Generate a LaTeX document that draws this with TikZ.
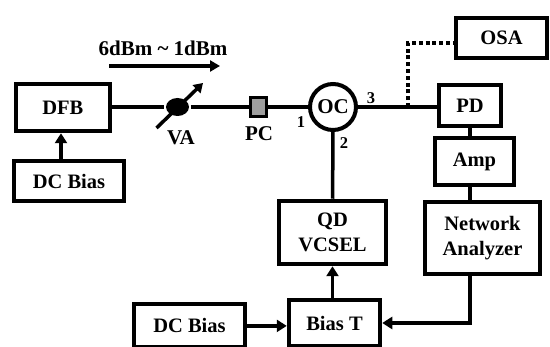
\documentclass[tikz,border=0pt]{standalone}
\usepackage{fontspec}
\setmainfont{Liberation Serif}
\usepackage{tikz}
\usetikzlibrary{arrows.meta,positioning,shapes.geometric}
\begin{document}
\begin{tikzpicture}[
    x=1pt, y=-1pt,
    line width=3.5pt,
    block/.style={rectangle, draw=black, fill=white, line width=4pt, inner sep=0pt, align=center, font=\bfseries\fontsize{20.5}{25.5}\selectfont},
    port/.style={font=\bfseries\fontsize{16.5}{18}\selectfont, inner sep=0pt},
    tag/.style={font=\bfseries\fontsize{21}{22}\selectfont, inner sep=0pt},
    feed/.style={-{Triangle[length=10pt,width=12pt]}, line width=3.5pt}
]
\useasboundingbox (0,0) rectangle (550,347);

% Source branch
\node[block, minimum width=94pt, minimum height=47.5pt] (dfb) at (62.75,107.5) {DFB};
\node[block, minimum width=110.5pt, minimum height=40.5pt] (dc1) at (69,181) {DC Bias};
\node[ellipse, fill=black, minimum width=23pt, minimum height=18pt, inner sep=0pt] (va) at (177.5,107) {};
\node[rectangle, draw=black, fill=gray!75, line width=3pt, minimum width=16pt, minimum height=19pt, inner sep=0pt] (pc) at (258.5,107) {};
\node[circle, draw=black, fill=white, line width=4pt, minimum size=46pt, inner sep=0pt, font=\bfseries\fontsize{21}{22}\selectfont] (oc) at (333,107) {OC};

% Receiver branch
\node[block, minimum width=91.5pt, minimum height=40.5pt] (osa) at (501.5,38) {OSA};
\node[block, minimum width=62.5pt, minimum height=41.5pt] (pd) at (470,105.5) {PD};
\node[block, minimum width=79.5pt, minimum height=47.5pt] (amp) at (474.5,161.5) {Amp};
\node[block, minimum width=115.5pt, minimum height=72.5pt] (na) at (482.5,238) {Network\\Analyzer};

% Laser branch
\node[block, minimum width=107.5pt, minimum height=63.5pt] (qd) at (332.5,232.5) {QD\\VCSEL};
\node[block, minimum width=91.5pt, minimum height=46pt] (biast) at (334.5,323) {Bias T};
\node[block, minimum width=110.5pt, minimum height=43pt] (dc2) at (189.5,325.9) {DC Bias};

% Labels
\node[tag] (power) at (163,48) {6dBm \textasciitilde{} 1dBm};
\node[tag] (valabel) at (181,138) {VA};
\node[tag] (pclabel) at (259,134) {PC};
\node[port] (p1) at (301,122) {1};
\node[port] (p2) at (344,143) {2};
\node[port] (p3) at (371,98) {3};

\coordinate (tap) at (408,107);
\coordinate (bend) at (408,43);
\coordinate (powerstart) at (109,66);
\coordinate (powerend) at (220,66);
\coordinate (vastart) at (156.5,128);
\coordinate (vaend) at (203,83);

\draw (dfb.east |- va) -- (va);
\draw (va) -- (pc);
\draw (pc) -- (oc);
\draw (oc.east) -- (pd.west |- oc.east);
\draw (oc) -- (qd);
\draw (pd) -- (pd |- amp.north);
\draw (na.north -| pd) -- (amp.south -| pd);
\draw[line width=4pt, dash pattern=on 4pt off 2.8pt] (tap) -- (bend) -- (bend -| osa.west);
\draw[feed] (dc1.north -| 61,0) -- (dfb.south -| 61,0);
\draw[feed] (biast.north -| qd) -- (qd.south);
\draw[feed] (dc2.east) -- (biast.west |- dc2.east);
\draw[feed] (na.south -| pd) |- (biast.east);
\draw[-{Triangle[length=10pt,width=11pt]}, line width=4pt] (powerstart) -- (powerend);
\draw[-{Triangle[length=9pt,width=11pt]}, line width=3.5pt] (vastart) -- (vaend);
\end{tikzpicture}
\end{document}
